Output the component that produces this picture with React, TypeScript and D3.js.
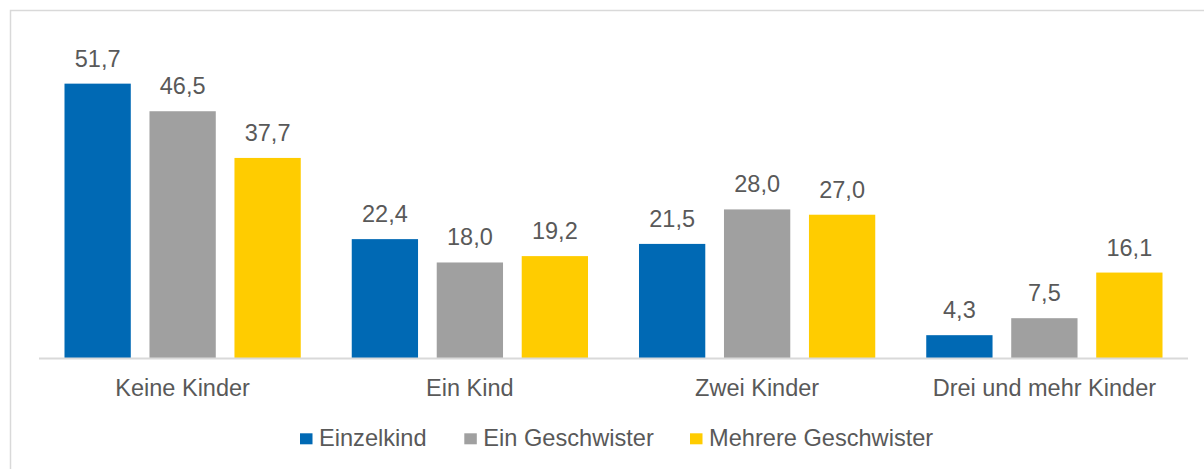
import React from "react";
import * as d3 from "d3";

const categories = ["Keine Kinder", "Ein Kind", "Zwei Kinder", "Drei und mehr Kinder"];
const seriesNames = ["Einzelkind", "Ein Geschwister", "Mehrere Geschwister"];
const einzelkind = [51.7, 22.4, 21.5, 4.3];
const einGeschwister = [46.5, 18.0, 28.0, 7.5];
const mehrereGeschwister = [37.7, 19.2, 27.0, 16.1];
const seriesValues = [einzelkind, einGeschwister, mehrereGeschwister];
const colors = ["#0069B4", "#A0A0A0", "#FFCC00"];

const W = 1204;
const H = 469;
const FONT = "'Liberation Sans', Arial, sans-serif";
const TEXT = "#595959";

export default function App() {
  const x0 = d3.scaleBand<string>().domain(categories).range([39, 1188]).paddingInner(0).paddingOuter(0);
  const x1 = d3
    .scaleBand<number>()
    .domain([0, 1, 2])
    .range([0, x0.bandwidth()])
    .paddingInner(0.22)
    .paddingOuter(0.3);
  const y = d3.scaleLinear().domain([0, 60]).range([358, 39.6]);
  const fmt = (v: number) => d3.format(".1f")(v).replace(".", ",");

  const legendX = [300, 464.3, 690];

  return (
    <svg width={W} height={H} style={{ position: "absolute", left: 0, top: 0, background: "#fff" }}>
      <rect x={10.5} y={10.5} width={1300} height={600} fill="none" stroke="#D9D9D9" strokeWidth={1.5} />
      {categories.map((c, ci) => (
        <g key={c} transform={`translate(${x0(c)},0)`}>
          {seriesValues.map((vals, si) => {
            const v = vals[ci];
            const bx = x1(si)!;
            return (
              <g key={si}>
                <rect x={bx} y={y(v)} width={x1.bandwidth()} height={y(0) - y(v)} fill={colors[si]} />
                <text
                  x={bx + x1.bandwidth() / 2}
                  y={y(v) - 17}
                  textAnchor="middle"
                  fontFamily={FONT}
                  fontSize={23.5}
                  fill={TEXT}
                >
                  {fmt(v)}
                </text>
              </g>
            );
          })}
          <text
            x={x0.bandwidth() / 2}
            y={396}
            textAnchor="middle"
            fontFamily={FONT}
            fontSize={23.5}
            fill={TEXT}
          >
            {c}
          </text>
        </g>
      ))}
      <line x1={39} x2={1188} y1={358.5} y2={358.5} stroke="#D9D9D9" strokeWidth={2} />
      {seriesNames.map((s, i) => (
        <g key={s} transform={`translate(${legendX[i]},0)`}>
          <rect x={0} y={433.3} width={12.5} height={11} fill={colors[i]} />
          <text x={19} y={446} fontFamily={FONT} fontSize={23.6} fill={TEXT}>
            {s}
          </text>
        </g>
      ))}
    </svg>
  );
}
